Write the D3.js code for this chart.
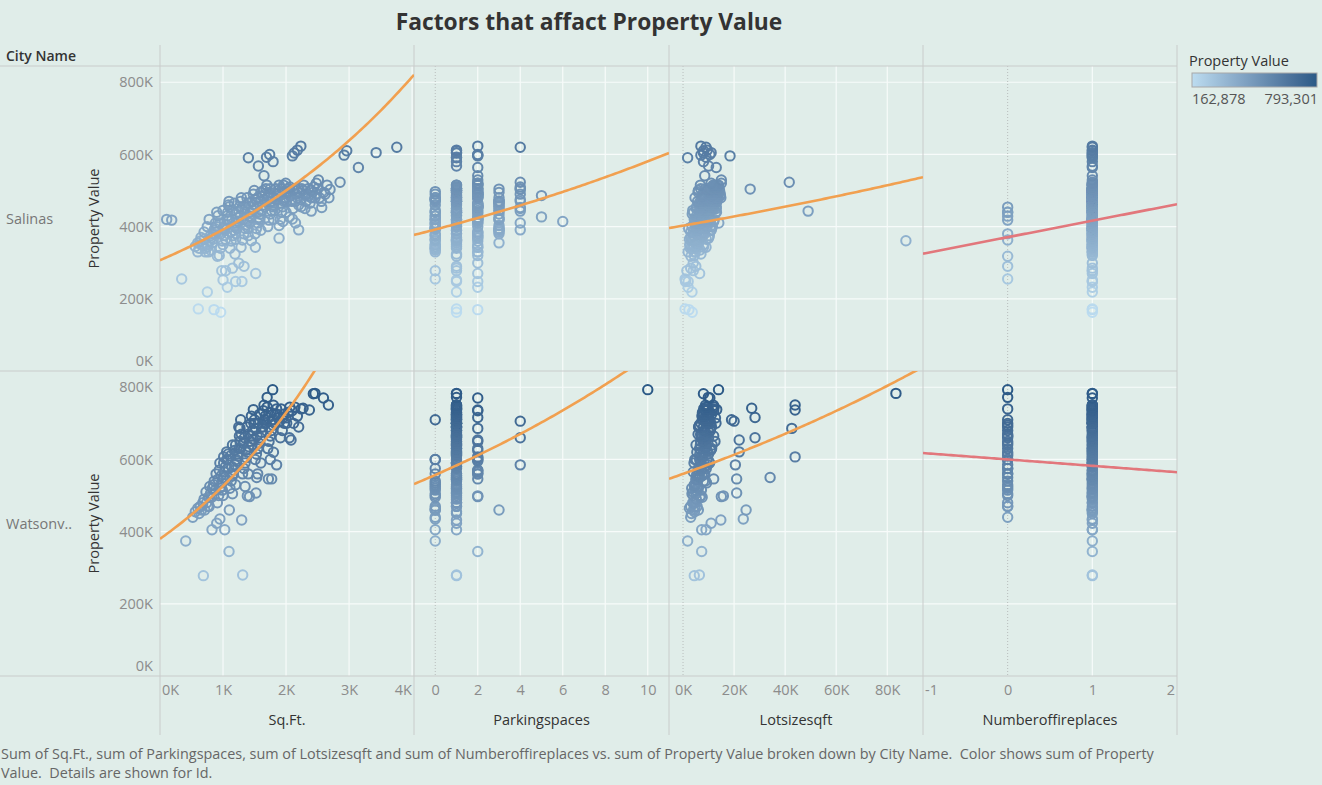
<!DOCTYPE html>
<html>
<head>
<meta charset="utf-8">
<script src="https://cdn.jsdelivr.net/npm/d3@7"></script>
<style>
    body { margin: 0; background: #e0ede9; }
    svg text { font-family: "Open Sans", "Noto Sans", sans-serif; white-space: pre; }
</style>
</head>
<body>
<svg id="chart" width="1322" height="785"></svg>
<script>
// ---- data ----
const rowLabels = ["Salinas", "Watsonv.."];
const measureNames = ["Sq.Ft.", "Parkingspaces", "Lotsizesqft", "Numberoffireplaces"];
const xDomains = [[0, 4030], [-1, 11], [-5.5, 94], [-1, 2]];
const xTickValues = [[0, 1000, 2000, 3000, 4000], [0, 2, 4, 6, 8, 10], [0, 20, 40, 60, 80], [-1, 0, 1, 2]];
const xTickLabels = [["0K", "1K", "2K", "3K", "4K"], ["0", "2", "4", "6", "8", "10"], ["0K", "20K", "40K", "60K", "80K"], ["-1", "0", "1", "2"]];
const yDomain = [0, 845];
const yTickValues = [0, 200, 400, 600, 800];
const yTickLabels = ["0K", "200K", "400K", "600K", "800K"];
const valueRange = [162.878, 793.301];
const legendLabels = ["162,878", "793,301"];

// trend lines: ["exp", a, b] -> a*e^(b*x), ["lin", a, b] -> a + b*x  (value in K)
const salinasTrends = [["exp", 307, 0.000244], ["exp", 392, 0.0393], ["exp", 402.7, 0.003062], ["lin", 370.7, 45.7]];
const watsonTrends = [["exp", 380, 0.000326], ["exp", 557, 0.0464], ["exp", 560, 0.00452], ["lin", 600, -17.7]];

// homes: [sq.ft, parking spaces, lot size (K sqft), fireplaces, property value (K)]
const salinasHomes = [
    [106,2,5.5,1,420],[186,2,6.0,1,418],[344,0,0.8,0,255],[608,1,0.8,1,172],[857,2,2.3,1,170],
    [963,1,3.6,1,162.878],[751,1,3.5,1,219],[1068,2,2.0,1,232],[1000,1,1.0,1,252],[980,0,1.5,1,278],
    [1040,1,4.0,1,278],[1333,1,5.0,0,290],[1519,2,6.5,1,270],[1190,1,7.0,1,324],[1286,2,8.0,1,343],
    [1513,2,9.0,1,343],[1889,2,10.0,1,368],[1889,3,11.0,1,403],[2100,2,7.5,1,421],[2238,3,12.0,1,455],
    [2566,4,9.0,1,453],[1402,1,1.8,1,591],[1561,1,10.0,1,568],[1650,2,8.5,1,541],[1690,1,9.0,1,592],
    [1740,2,10.5,1,600],[1794,1,8.0,1,580],[2100,2,18.4,1,596],[2180,1,9.5,1,612],[2235,2,7.0,1,623],
    [2130,1,8.0,1,604],[1995,2,11.0,1,520],[2116,3,26.3,1,504],[2857,4,41.6,1,523],[2921,2,7.0,1,598],
    [3757,4,9.0,1,620],[2963,1,8.0,1,610],[3148,2,13.0,1,564],[3429,1,11.0,1,605],[2698,4,14.0,1,503],
    [2513,2,15.0,1,529],[2487,4,12.0,1,490],[2400,4,49.0,1,443],[2300,5,11.0,1,486],[2050,5,10.0,1,427],
    [1450,1,87.3,1,361],[1950,6,12.0,1,414],[2000,4,12.5,1,470],[2300,4,13.0,1,450],[2150,4,14.0,1,410],
    [2200,4,11.0,1,391],[1200,1,1.0,1,248],[1300,2,2.0,1,248],[1150,1,3.0,1,285],[1250,2,4.0,1,299],
    [560,0,4.2,1,345],[600,1,5.1,1,355],[640,2,3.3,1,360],[680,0,6.0,1,350],[620,1,2.8,1,340],
    [720,2,4.5,1,330],[760,1,5.5,1,345],[790,0,3.9,1,360],[820,2,6.8,1,370],[850,1,4.9,0,380],
    [870,3,7.2,1,395],[880,1,5.8,1,410],[740,0,8.1,1,350],
    [910,1,3.1,0,318],[940,2,4.4,1,320],[960,0,5.2,1,340],[990,1,6.1,1,360],[1010,2,7.4,1,375],
    [1030,1,5.0,1,390],[1050,0,8.3,1,405],[1060,2,6.6,1,420],[1075,1,4.1,1,440],[1085,2,9.2,1,460],
    [1095,1,5.7,1,470],
    [1110,0,3.7,1,340],[1130,1,6.2,1,360],[1150,2,7.8,1,375],[1170,3,5.4,1,390],[1190,1,9.5,1,400],
    [1210,0,4.6,1,410],[1230,2,6.9,1,425],[1250,1,8.8,0,440],[1260,2,5.3,1,455],[1280,1,7.1,1,470],
    [1290,0,10.2,1,480],
    [1310,1,4.8,0,363],[1330,2,6.4,1,380],[1350,3,8.0,1,395],[1370,1,5.9,1,405],[1390,2,9.8,1,415],
    [1410,0,7.3,0,429],[1430,1,6.5,1,440],[1450,2,11.1,0,454],[1460,1,8.6,1,470],[1480,0,7.7,1,490],
    [1495,2,6.0,1,500],
    [1510,1,5.6,1,380],[1530,0,9.1,1,395],[1550,2,7.5,1,410],[1570,3,10.5,1,425],[1590,1,6.3,1,435],
    [1610,2,8.4,1,445],[1630,0,12.0,1,460],[1650,1,7.0,1,475],[1670,2,9.9,1,490],[1680,2,8.7,1,505],
    [1695,1,6.8,1,515],
    [1710,2,11.5,1,400],[1730,1,8.2,0,418],[1750,3,9.4,1,435],[1770,0,7.6,1,445],[1790,2,13.0,1,455],
    [1810,1,10.1,1,465],[1830,4,8.9,1,475],[1850,2,11.8,1,490],[1870,1,9.6,1,500],[1890,2,12.4,1,515],
    [1910,3,10.8,1,420],[1930,0,12.8,0,440],[1950,2,9.3,1,455],[1970,1,11.4,1,470],[1990,3,13.6,1,480],
    [2010,2,10.4,1,490],[2030,0,14.2,1,497],[2060,1,12.1,1,510],
    [2110,2,11.9,1,450],[2150,3,13.3,1,470],[2180,1,14.8,1,480],[2210,2,12.6,1,495],[2250,4,10.9,1,505],
    [2280,2,13.9,1,515],
    [2320,3,12.2,1,470],[2360,2,14.5,1,485],[2400,1,11.6,1,500],[2440,4,13.1,1,510],[2480,2,15.0,1,520],
    [2530,2,12.7,1,480],[2600,3,14.1,1,495],[2650,2,13.4,1,515],
    [700,1,2.5,1,365],[900,2,3.0,1,385],[1000,0,2.2,1,395],[1100,1,4.4,1,420],[1200,2,3.6,1,435],
    [1350,1,5.2,1,450],[1400,2,6.3,1,465],[1550,1,4.7,1,480],[1600,2,5.9,1,495],[1750,1,6.9,1,505],
    [800,0,6.7,1,335],[1000,2,7.9,1,350],[1200,1,9.1,1,365],[1400,0,10.3,1,375],[1600,3,11.0,1,390],
    [1800,1,12.2,1,420],[2000,2,13.1,1,440],[2200,1,12.0,1,460],[2400,2,10.0,1,480],[900,1,8.8,1,440],
    [650,1,3.0,1,370],[700,2,4.0,1,385],[750,1,3.5,1,400],[780,0,5.0,1,420],[800,0,4.2,1,375],
    [830,3,5.6,1,355],[860,1,6.0,1,390],[900,0,4.8,1,400],[920,1,5.3,1,430],[950,2,6.4,1,410],
    [970,3,7.0,1,380],[1000,1,3.8,1,445],[1020,0,6.8,1,395],[1040,0,5.9,1,365],[1070,1,7.7,1,430],
    [1100,2,6.5,1,455],[1120,3,8.0,1,385],[1140,0,5.1,1,420],[1160,1,6.9,1,445],[1180,2,7.3,1,465],
    [1200,0,8.4,1,380],[1220,0,5.5,1,395],[1240,1,9.0,1,415],[1270,0,6.1,1,430],[1300,1,7.6,1,450],
    [1320,3,8.9,1,420],[1340,1,6.6,1,440],[1360,2,9.6,1,460],[1380,1,7.9,1,480],[1400,0,8.3,1,395],
    [1420,0,10.0,1,410],[1440,2,6.2,1,425],[1470,3,9.3,1,445],[1490,2,7.2,1,460],[1520,1,8.1,1,475],
    [1540,2,10.6,1,455],[1560,0,6.7,1,440],[1580,0,9.7,1,420],[1600,1,11.3,1,470],[1620,2,7.8,1,485],
    [1640,1,10.9,1,500],[1660,3,8.3,1,455],[1700,1,9.2,1,470],[1720,2,7.4,1,485],[1740,1,10.3,1,495],
    [1760,0,11.7,1,470],[1780,1,8.6,1,480],[1800,3,9.9,1,460],[1820,3,10.7,1,445],[1840,1,12.6,1,505],
    [1860,0,9.1,1,475],[1880,1,11.2,1,485],[1900,2,10.5,1,495],[1920,3,12.9,1,465],[1940,2,9.5,1,505],
    [1960,1,11.8,1,515],[1980,0,10.1,1,475],[2020,1,12.3,1,495],[2040,2,11.1,1,505],[2070,1,13.5,1,485],
    [2090,3,10.8,1,470],[2120,1,12.0,1,500],[2160,2,13.7,1,490],[2190,1,11.4,1,505],[2230,0,12.8,1,475],
    [2270,1,14.3,1,500],[2310,2,11.9,1,490],[2350,1,13.2,1,505],[2380,3,12.5,1,465],[2420,1,14.0,1,495],
    [2460,0,11.0,1,480],[2500,1,13.6,1,505],[2560,3,12.3,1,470],[2620,1,14.6,1,490],[2680,2,13.0,1,480],
    [600,0,2.0,1,330],[660,1,2.6,1,350],[720,0,3.2,1,340],[770,2,4.8,1,330],[840,0,3.6,1,365]
];

const watsonHomes = [
    [1788,10,13.9,0,793.301],[408,0,1.8,1,374],[688,1,4.4,1,278],[1312,1,6.4,1,280],[1095,2,7.3,1,345],
    [825,0,7.3,1,405],[1027,1,9.0,1,405],[1296,1,14.8,1,432],[900,1,11.0,1,423],[1386,2,15.8,1,499],
    [1524,1,21.0,1,507],[1534,1,34.1,1,550],[1720,2,21.0,1,546],[1772,1,12.0,1,546],[1100,3,24.7,1,460],
    [950,0,23.6,1,435],[2433,1,8.0,1,782],[2460,1,83.4,1,783],[2593,2,10.5,1,770],[2672,1,43.9,1,751],
    [2370,2,43.9,1,737],[2270,1,26.9,1,742],[2140,1,9.5,1,745],[2095,2,12.0,1,735],[2053,4,28.2,1,660],
    [2079,2,22.0,1,654],[1481,1,13.2,1,738],[1280,0,19.0,1,710],[1270,2,42.6,1,686],[1058,1,22.0,1,621],
    [1010,2,43.9,1,607],[1900,4,20.0,1,706],[1850,4,20.5,1,585],[1950,2,28.2,1,716],[1420,2,15.0,1,497],
    [1700,1,9.9,0,772],[2200,1,11.0,1,690],
    [520,0,3.0,0,440],[560,1,4.5,1,455],[600,0,2.5,1,465],[640,1,5.5,0,470],[680,1,3.8,1,480],
    [710,0,6.0,1,460],[740,1,4.2,0,480],[770,0,7.5,1,495],[800,1,5.0,1,505],[830,0,3.4,0,520],
    [860,1,8.0,1,540],[890,2,6.2,1,560],
    [910,1,4.8,1,480],[930,0,7.0,0,500],[950,1,5.6,1,520],[980,0,9.2,1,535],[1000,1,6.5,0,550],
    [1020,2,4.0,1,565],[1040,1,8.4,1,580],[1060,0,5.2,0,600],[1080,1,10.0,1,615],
    [1110,1,6.0,1,520],[1130,0,8.8,0,540],[1150,1,5.3,1,555],[1170,2,7.2,1,570],[1190,1,9.6,0,585],
    [1210,0,4.6,1,600],[1230,1,6.8,1,615],[1250,2,11.2,0,630],[1270,1,7.9,1,650],[1290,1,5.9,0,670],
    [1310,1,8.1,1,560],[1330,0,6.3,0,575],[1350,1,10.4,1,590],[1370,2,7.4,1,605],[1390,1,5.4,0,620],
    [1410,1,9.0,1,635],[1430,1,6.9,1,650],[1450,1,12.0,0,665],[1470,1,8.3,1,680],[1490,1,7.0,0,700],
    [1510,2,9.4,1,600],[1530,1,6.6,0,615],[1550,1,11.0,1,630],[1570,1,8.5,0,645],[1590,1,7.3,1,660],
    [1610,1,10.2,1,675],[1630,1,6.1,0,690],[1650,1,9.8,1,705],[1670,1,7.7,1,720],
    [1710,1,8.9,1,630],[1730,2,12.5,0,650],[1750,1,7.1,1,665],[1770,1,10.7,1,680],[1790,1,6.4,0,695],
    [1810,1,9.1,1,710],[1830,1,8.0,1,725],[1850,1,11.6,0,740],
    [1910,1,10.0,1,660],[1940,1,8.6,0,680],[1970,1,12.9,1,700],[2000,1,9.7,1,715],[2030,1,7.6,1,730],
    [2120,1,10.9,1,700],[2180,1,9.2,1,720],[2240,1,8.1,1,740],
    [780,1,3.0,1,470],[1000,1,4.0,1,500],[1200,1,5.0,1,530],[1400,1,6.0,1,560],[1600,1,7.0,1,590],
    [1800,1,8.0,1,620],[1150,0,3.5,0,505],[1350,0,4.5,0,525],[1550,2,5.5,0,560],[1750,1,6.5,0,600],
    [1250,1,6.2,1,690],[1450,1,7.4,1,720],[1650,1,8.8,1,750],[1150,1,5.1,1,640],[950,1,4.3,1,590],
    [620,1,3.3,1,450],[660,0,4.1,1,460],[700,1,5.2,1,490],[730,1,3.9,1,510],[760,0,4.7,0,470],
    [790,1,5.8,1,525],[820,1,6.6,1,495],[850,0,4.4,0,530],[880,1,7.2,1,515],[920,1,5.0,1,545],
    [940,2,6.1,1,570],[970,1,7.5,1,555],[990,0,4.9,0,515],[1010,1,8.2,1,590],[1050,1,5.7,1,545],
    [1070,2,6.9,1,600],[1090,1,9.1,0,575],[1120,1,7.7,1,610],[1140,1,6.2,1,580],[1160,0,8.5,0,560],
    [1180,1,9.4,1,625],[1200,1,6.8,1,640],[1220,2,10.1,1,595],[1240,1,7.4,0,610],[1260,1,8.8,1,665],
    [1280,1,6.5,1,630],[1320,1,9.7,1,645],[1340,1,7.3,0,660],[1360,2,10.8,1,625],[1380,1,8.0,1,690],
    [1400,1,6.9,1,670],[1440,1,9.5,1,700],[1460,1,11.4,0,640],[1480,1,8.6,1,655],[1500,1,7.6,1,710],
    [1520,1,10.6,1,685],[1540,1,8.2,0,665],[1560,1,9.9,1,700],[1580,1,7.8,1,725],[1620,1,11.1,1,690],
    [1640,1,8.7,1,735],[1660,1,10.4,0,710],[1680,1,9.0,1,700],[1700,1,12.2,1,745],[1720,1,8.4,1,715],
    [1760,1,10.5,1,730],[1780,1,9.3,1,710],[1800,1,11.9,1,750],[1820,1,8.9,1,700],[1860,1,10.2,1,725],
    [1880,1,12.7,1,715],[1920,1,9.8,1,740],[1960,1,11.2,1,725],[2010,1,10.6,1,700],[2060,1,9.0,1,745]
];

const cityHomes = [salinasHomes, watsonHomes];
const cityTrends = [salinasTrends, watsonTrends];

// ---- layout ----
const W = 1322, H = 785;
const panelX = [160, 414, 669, 923, 1177];
const rowY = [66, 371, 676];
const gridTop = 45, gridBottom = 735;
const labelSize = "14.5px";

const svg = d3.select("#chart");

const color = d3.scaleLinear()
    .domain(valueRange)
    .range(["#bcdcf0", "#2b5986"])
    .interpolate(d3.interpolateLab);

const xScales = xDomains.map((dom, i) => d3.scaleLinear().domain(dom).range([panelX[i], panelX[i + 1]]));
const yScales = [0, 1].map(r => d3.scaleLinear().domain(yDomain).range([rowY[r + 1], rowY[r]]));

svg.append("rect").attr("width", W).attr("height", H).attr("fill", "#e0ede9");

// title
svg.append("text")
    .attr("x", 589).attr("y", 30)
    .attr("text-anchor", "middle")
    .attr("font-size", "22.8px").attr("font-weight", "bold")
    .attr("fill", "#333")
    .text("Factors that affact Property Value");

svg.append("text")
    .attr("x", 6).attr("y", 61)
    .attr("font-size", "14px").attr("font-weight", 600)
    .attr("fill", "#333")
    .text("City Name");

// gridlines
const grid = svg.append("g");
for (let r = 0; r < 2; r++) {
    for (let m = 0; m < 4; m++) {
        let x = xScales[m], y = yScales[r];
        grid.selectAll(null)
            .data(yTickValues.filter(v => v > 0))
            .enter().append("line")
            .attr("x1", panelX[m]).attr("x2", panelX[m + 1])
            .attr("y1", d => y(d)).attr("y2", d => y(d))
            .attr("stroke", "#f7fbfa").attr("stroke-width", 1.2);
        grid.selectAll(null)
            .data(xTickValues[m].filter(v => x(v) > panelX[m] + 1 && x(v) < panelX[m + 1] - 1 && v !== 0))
            .enter().append("line")
            .attr("x1", d => x(d)).attr("x2", d => x(d))
            .attr("y1", rowY[r]).attr("y2", rowY[r + 1])
            .attr("stroke", "#f7fbfa").attr("stroke-width", 1.2);
        if (x(0) > panelX[m] + 1) {
            grid.append("line")
                .attr("x1", x(0)).attr("x2", x(0))
                .attr("y1", rowY[r]).attr("y2", rowY[r + 1])
                .attr("stroke", "#b8bdbc").attr("stroke-width", 1)
                .attr("stroke-dasharray", "1,2");
        }
    }
}

// borders
const borders = svg.append("g").attr("stroke", "#c9cccb").attr("stroke-width", 1);
rowY.forEach(yv => {
    borders.append("line").attr("x1", 0).attr("x2", panelX[4]).attr("y1", yv).attr("y2", yv);
});
panelX.forEach(xv => {
    borders.append("line").attr("x1", xv).attr("x2", xv).attr("y1", gridTop).attr("y2", gridBottom);
});

// clip paths per panel
const defs = svg.append("defs");
for (let r = 0; r < 2; r++) {
    for (let m = 0; m < 4; m++) {
        defs.append("clipPath").attr("id", "clip" + r + m)
            .append("rect")
            .attr("x", panelX[m]).attr("y", rowY[r])
            .attr("width", panelX[m + 1] - panelX[m]).attr("height", rowY[r + 1] - rowY[r]);
    }
}

// marks
for (let r = 0; r < 2; r++) {
    const homes = cityHomes[r].slice().sort((a, b) => a[4] - b[4]);
    for (let m = 0; m < 4; m++) {
        const x = xScales[m], y = yScales[r];
        svg.append("g")
            .attr("clip-path", "url(#clip" + r + m + ")")
            .selectAll("circle")
            .data(homes)
            .enter().append("circle")
            .attr("cx", d => x(d[m]))
            .attr("cy", d => y(d[4]))
            .attr("r", 4.7)
            .attr("fill", "none")
            .attr("stroke", d => color(d[4]))
            .attr("stroke-width", 2);

        const t = cityTrends[r][m];
        const f = t[0] === "exp" ? (v => t[1] * Math.exp(t[2] * v)) : (v => t[1] + t[2] * v);
        const xs = d3.range(0, 101).map(i => xDomains[m][0] + (xDomains[m][1] - xDomains[m][0]) * i / 100);
        svg.append("path")
            .attr("clip-path", "url(#clip" + r + m + ")")
            .datum(xs)
            .attr("d", d3.line().x(v => x(v)).y(v => y(f(v))))
            .attr("fill", "none")
            .attr("stroke", t[0] === "exp" ? "#f1a050" : "#e2777c")
            .attr("stroke-width", 2.6);
    }
}

// y axes
for (let r = 0; r < 2; r++) {
    const ax = svg.append("g")
        .attr("transform", "translate(" + panelX[0] + ",0)")
        .call(d3.axisLeft(yScales[r]).tickValues(yTickValues)
            .tickFormat((d, i) => yTickLabels[i]).tickSize(0).tickPadding(7));
    ax.select(".domain").remove();
    ax.selectAll("text")
        .attr("font-size", labelSize).attr("fill", "#8c8c8c")
        .attr("font-family", "\"Open Sans\", sans-serif")
        .each(function () {
            const b = this.getBBox();
            const bottom = b.y + b.height;
            const t = d3.select(this.parentNode).attr("transform");
            const ty = +t.match(/,([-\d.]+)\)/)[1];
            if (ty + bottom > rowY[r + 1] - 1) {
                d3.select(this).attr("y", -(ty + bottom - (rowY[r + 1] - 1)));
            }
        });

    svg.append("text")
        .attr("transform", "translate(99," + (rowY[r] + rowY[r + 1]) / 2 + ") rotate(-90)")
        .attr("text-anchor", "middle")
        .attr("font-size", labelSize)
        .attr("fill", "#333")
        .text("Property Value");

    svg.append("text")
        .attr("x", 6).attr("y", (rowY[r] + rowY[r + 1]) / 2 + 5)
        .attr("font-size", labelSize)
        .attr("fill", "#777")
        .text(rowLabels[r]);
}

// x axes
for (let m = 0; m < 4; m++) {
    const ax = svg.append("g")
        .attr("transform", "translate(0," + rowY[2] + ")")
        .call(d3.axisBottom(xScales[m]).tickValues(xTickValues[m])
            .tickFormat((d, i) => xTickLabels[m][i]).tickSize(0).tickPadding(9));
    ax.select(".domain").remove();
    ax.selectAll("text")
        .attr("font-size", labelSize).attr("fill", "#8c8c8c")
        .attr("font-family", "\"Open Sans\", sans-serif")
        .each(function () {
            const b = this.getBBox();
            const t = d3.select(this.parentNode).attr("transform");
            const tx = +t.match(/\(([-\d.]+),/)[1];
            const left = tx + b.x, right = tx + b.x + b.width;
            if (left < panelX[m] + 2) d3.select(this).attr("x", panelX[m] + 2 - left);
            else if (right > panelX[m + 1] - 2) d3.select(this).attr("x", panelX[m + 1] - 2 - right);
        });

    svg.append("text")
        .attr("x", (panelX[m] + panelX[m + 1]) / 2).attr("y", 725)
        .attr("text-anchor", "middle")
        .attr("font-size", labelSize)
        .attr("fill", "#333")
        .text(measureNames[m]);
}

// legend
const grad = defs.append("linearGradient").attr("id", "legendGrad");
d3.range(0, 11).forEach(i => {
    grad.append("stop")
        .attr("offset", (i * 10) + "%")
        .attr("stop-color", color(valueRange[0] + (valueRange[1] - valueRange[0]) * i / 10));
});
svg.append("text")
    .attr("x", 1189).attr("y", 66)
    .attr("font-size", labelSize).attr("fill", "#333")
    .text("Property Value");
svg.append("rect")
    .attr("x", 1192).attr("y", 73).attr("width", 125).attr("height", 14)
    .attr("fill", "url(#legendGrad)")
    .attr("stroke", "#a8a8a8").attr("stroke-width", 1);
svg.append("text")
    .attr("x", 1192).attr("y", 104)
    .attr("font-size", labelSize).attr("fill", "#555")
    .text(legendLabels[0]);
svg.append("text")
    .attr("x", 1318).attr("y", 104)
    .attr("text-anchor", "end")
    .attr("font-size", labelSize).attr("fill", "#555")
    .text(legendLabels[1]);

// caption
const caption = ["Sum of Sq.Ft., sum of Parkingspaces, sum of Lotsizesqft and sum of Numberoffireplaces vs. sum of Property Value broken down by City Name.  Color shows sum of Property",
                 "Value.  Details are shown for Id."];
svg.selectAll(".caption")
    .data(caption)
    .enter().append("text")
    .classed("caption", true)
    .attr("x", 1).attr("y", (d, i) => 759 + i * 19)
    .attr("font-size", "14.4px").attr("fill", "#666")
    .text(d => d);
</script>
</body>
</html>
